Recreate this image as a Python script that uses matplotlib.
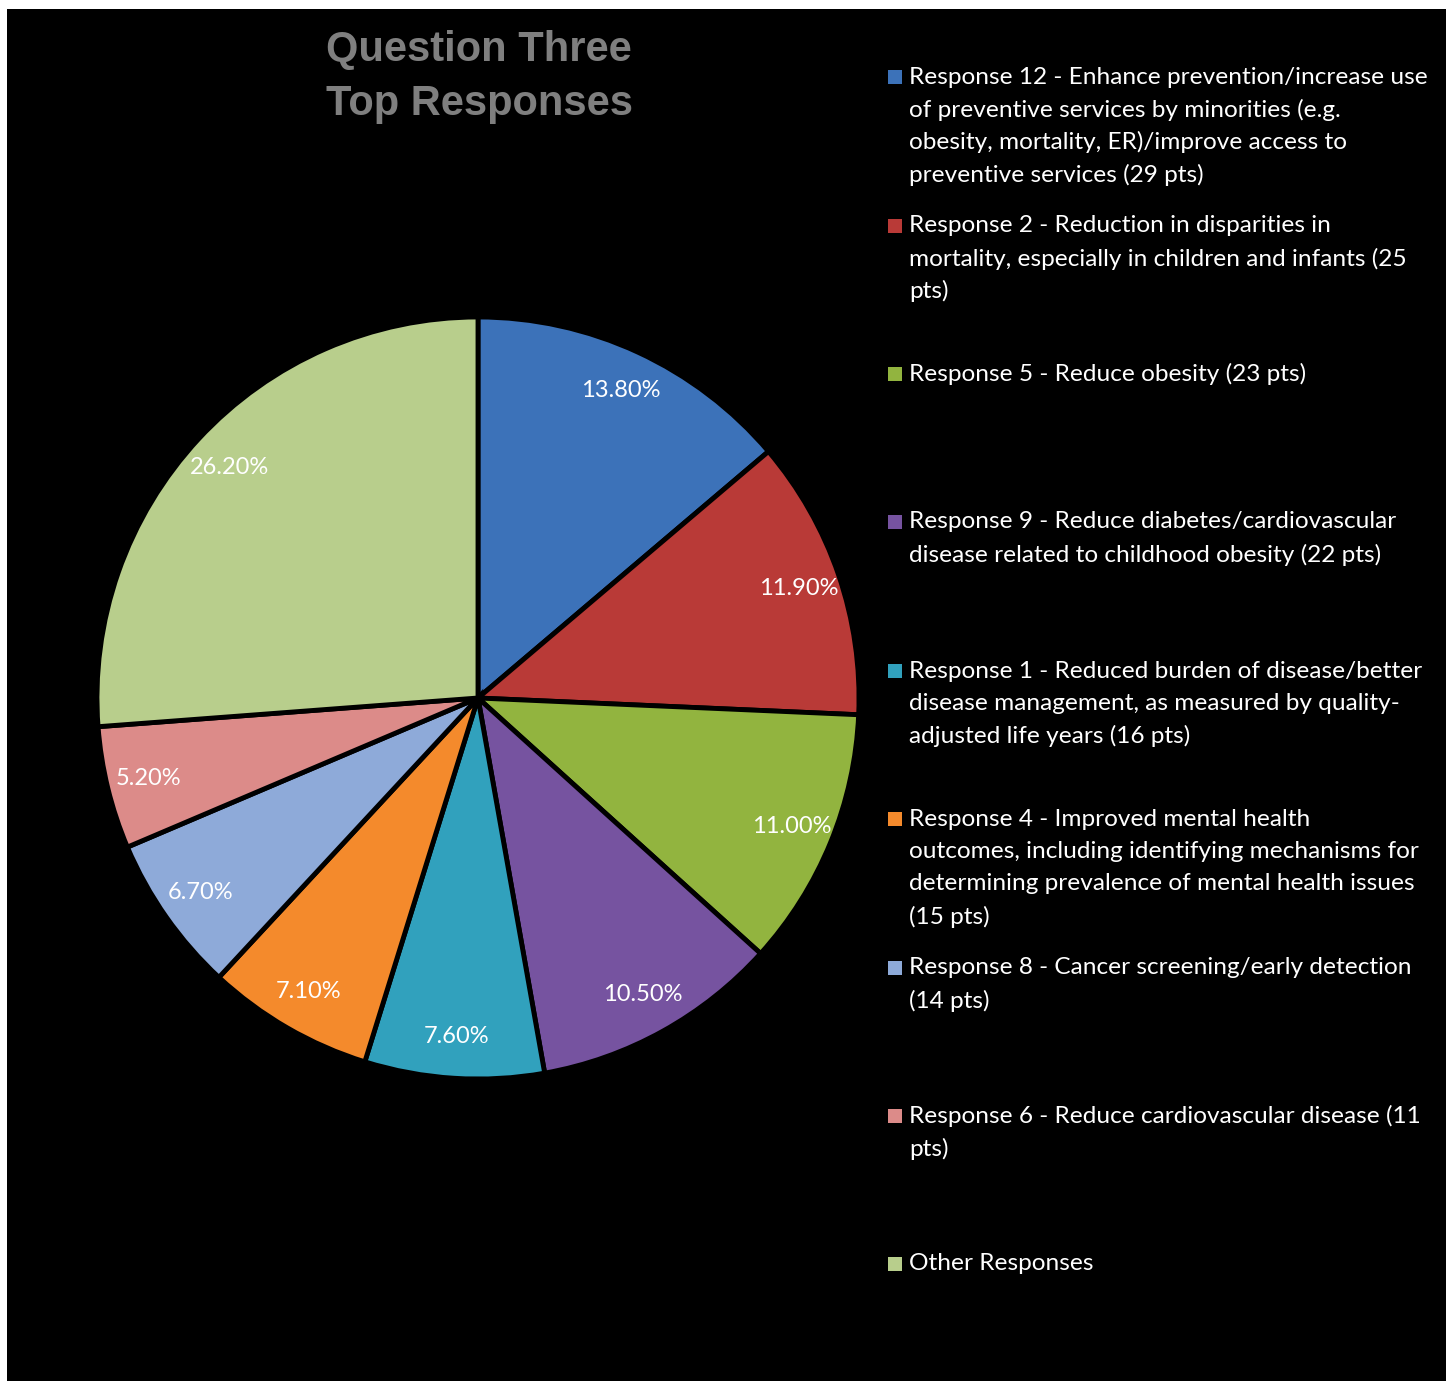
import matplotlib
matplotlib.use("Agg")
import matplotlib.pyplot as plt
from matplotlib.patches import Rectangle

# ---- data ----
categories = [
    "Response 12 - Enhance prevention/increase use\nof preventive services by minorities (e.g.\nobesity, mortality, ER)/improve access to\npreventive services (29 pts)",
    "Response 2 - Reduction in disparities in\nmortality, especially in children and infants (25\npts)",
    "Response 5 - Reduce obesity (23 pts)",
    "Response 9 - Reduce diabetes/cardiovascular\ndisease related to childhood obesity (22 pts)",
    "Response 1 - Reduced burden of disease/better\ndisease management, as measured by quality-\nadjusted life years (16 pts)",
    "Response 4 - Improved mental health\noutcomes, including identifying mechanisms for\ndetermining prevalence of mental health issues\n(15 pts)",
    "Response 8 - Cancer screening/early detection\n(14 pts)",
    "Response 6 - Reduce cardiovascular disease (11\npts)",
    "Other Responses",
]
values = [13.8, 11.9, 11.0, 10.5, 7.6, 7.1, 6.7, 5.2, 26.2]
colors = ["#3c72b9", "#b93a37", "#92b43f", "#7653a0", "#31a1bd",
          "#f48a2c", "#8eaad9", "#dc8b89", "#b8ce8c"]
title = "Question Three\nTop Responses"

W, H = 1450, 1381
fig = plt.figure(figsize=(W / 100, H / 100), dpi=100, facecolor="white")

# black background panel
fig.add_artist(Rectangle((7 / W, 0), (1446 - 7) / W, (H - 9) / H,
                         transform=fig.transFigure, facecolor="black",
                         edgecolor="none", zorder=-10))

# pie axes
cx, cy, R = 478, 698, 381
ax = fig.add_axes([(cx - R) / W, (H - cy - R) / H, 2 * R / W, 2 * R / H])
ax.set_facecolor("none")
wedges, texts, autotexts = ax.pie(
    values, colors=colors, startangle=90, counterclock=False,
    autopct=lambda p: f"{p:.2f}%", pctdistance=0.89,
    wedgeprops=dict(edgecolor="black", linewidth=3.5, joinstyle="miter"),
    textprops=dict(color="white", fontsize=17, family="Lato"))
ax.set_xlim(-1, 1)
ax.set_ylim(-1, 1)
ax.set_aspect("equal")
for w in wedges:
    w.set_clip_on(False)

# title
fig.text(479 / W, 1 - 77 / H, title, ha="center", va="center",
         color="#7f7f7f", fontsize=30, fontweight="bold",
         family=["Liberation Sans Narrow", "Liberation Sans"],
         linespacing=1.42)

# legend
tops = [77, 226, 374, 522, 671, 819, 968, 1116, 1264]
line_h = 32.5
for lab, col, ty in zip(categories, colors, tops):
    fig.add_artist(Rectangle((888 / W, 1 - (ty + 7) / H), 14 / W, 14 / H,
                             transform=fig.transFigure, facecolor=col,
                             edgecolor="none"))
    for i, line in enumerate(lab.split("\n")):
        fig.text(909 / W, 1 - (ty + i * line_h) / H, line, ha="left",
                 va="center", color="white", fontsize=17.6, family="Lato")

fig.savefig("out.png", dpi=100, facecolor="white")
